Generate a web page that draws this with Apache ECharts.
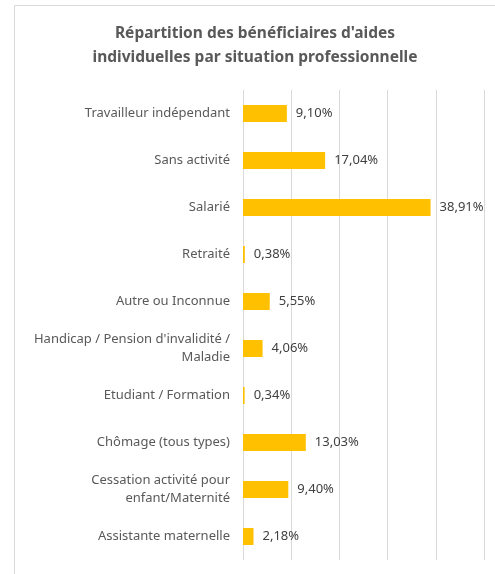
<!DOCTYPE html>
<html>
<head>
<meta charset="utf-8">
<script src="https://cdn.jsdelivr.net/npm/echarts@6/dist/echarts.min.js"></script>
<style>
  html, body { margin: 0; padding: 0; background: #fff; }
  #chart { width: 495px; height: 574px; }
</style>
</head>
<body>
<div id="chart"></div>
<script>
// catégories (de haut en bas)
const categories = [
  "Travailleur indépendant",
  "Sans activité",
  "Salarié",
  "Retraité",
  "Autre ou Inconnue",
  "Handicap / Pension d'invalidité /\nMaladie",
  "Etudiant / Formation",
  "Chômage (tous types)",
  "Cessation activité pour\nenfant/Maternité",
  "Assistante maternelle"
];
// parts en %
const shares = [9.10, 17.04, 38.91, 0.38, 5.55, 4.06, 0.34, 13.03, 9.40, 2.18];

const chart = echarts.init(document.getElementById("chart"));

const option = {
  animation: false,
  title: {
    text: "Répartition des bénéficiaires d'aides\nindividuelles par situation professionnelle",
    left: 250,
    textAlign: "center",
    top: 17,
    textStyle: {
      fontFamily: "Noto Sans",
      fontSize: 15.5,
      fontWeight: "bold",
      color: "#595959",
      lineHeight: 24
    }
  },
  graphic: [
    {
      type: "rect",
      shape: { x: 14.5, y: 5.5, width: 500, height: 600 },
      style: { fill: "none", stroke: "#d9d9d9", lineWidth: 1 },
      silent: true
    }
  ],
  grid: {
    left: 243,
    right: 11,
    top: 90,
    bottom: 14
  },
  xAxis: {
    type: "value",
    min: 0,
    max: 50,
    interval: 10,
    axisLabel: { show: false },
    axisLine: { show: false },
    axisTick: { show: false },
    splitLine: { lineStyle: { color: "#d9d9d9", width: 1 } }
  },
  yAxis: {
    type: "category",
    inverse: true,
    data: categories,
    axisLine: { show: false },
    axisTick: { show: false },
    axisLabel: {
      margin: 13,
      fontFamily: "Noto Sans",
      fontSize: 13,
      color: "#595959",
      lineHeight: 18,
      align: "right"
    }
  },
  series: [
    {
      type: "bar",
      data: shares,
      barWidth: 17,
      itemStyle: { color: "#FFC000" },
      label: {
        show: true,
        position: "right",
        distance: 9,
        fontFamily: "Noto Sans",
        fontSize: 13,
        color: "#404040",
        formatter: (p) => p.value.toFixed(2).replace(".", ",") + "%"
      }
    }
  ]
};

chart.setOption(option);

window.addEventListener("resize", () => chart.resize());
</script>
</body>
</html>
